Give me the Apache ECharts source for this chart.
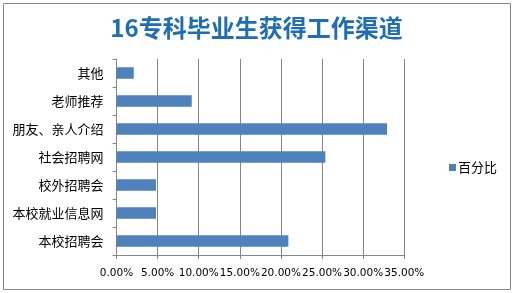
<!DOCTYPE html>
<html>
<head>
<meta charset="utf-8">
<script src="https://cdn.jsdelivr.net/npm/echarts@6/dist/echarts.min.js"></script>
<style>html,body{margin:0;padding:0;background:#fff}#c{width:513px;height:293px}</style>
</head>
<body>
<div id="c"></div>
<script>
var titleText = '16专科毕业生获得工作渠道';
var categories = ['其他', '老师推荐', '朋友、亲人介绍', '社会招聘网', '校外招聘会', '本校就业信息网', '本校招聘会'];
var seriesName = '百分比';
var values = [0.021, 0.0915, 0.329, 0.254, 0.048, 0.048, 0.209];
var xTicks = [0, 0.05, 0.10, 0.15, 0.20, 0.25, 0.30, 0.35];

var chart = echarts.init(document.getElementById('c'), null, {renderer: 'canvas'});
chart.setOption({
  animation: false,
  backgroundColor: '#fff',
  graphic: [{
    type: 'rect', shape: {x: 3.5, y: 3.5, width: 507, height: 286},
    style: {fill: 'none', stroke: '#868686', lineWidth: 1}, silent: true
  }],
  title: {
    text: titleText, left: 'center', top: 11,
    textStyle: {fontFamily: 'Noto Sans CJK SC', fontSize: 24, fontWeight: 'bold', color: '#1F6EB5'}
  },
  legend: {
    data: [seriesName], left: 444, top: 156, orient: 'vertical',
    icon: 'rect', itemWidth: 7, itemHeight: 7, itemGap: 4,
    textStyle: {fontFamily: 'Noto Sans CJK SC', fontSize: 13, color: '#000', padding: [0,0,0,-3]}
  },
  grid: {left: 116.5, right: 108.7, top: 59, bottom: 38, containLabel: false},
  xAxis: {
    type: 'value', min: 0, max: xTicks[xTicks.length - 1], interval: 0.05,
    axisLine: {show: true, lineStyle: {color: '#868686'}},
    axisTick: {show: true, length: 4, lineStyle: {color: '#868686'}},
    splitLine: {show: true, lineStyle: {color: '#868686', width: 1}},
    axisLabel: {
      hideOverlap: false, showMinLabel: true, showMaxLabel: true, margin: 13,
      fontFamily: 'DejaVu Sans', fontSize: 10.5, color: '#000',
      formatter: function (v) { return (v * 100).toFixed(2) + '%'; }
    }
  },
  yAxis: {
    type: 'category', data: categories, inverse: true,
    axisLine: {show: true, lineStyle: {color: '#868686'}},
    axisTick: {show: true, length: 4, alignWithLabel: false, lineStyle: {color: '#868686'}},
    axisLabel: {fontFamily: 'Noto Sans CJK SC', fontSize: 13, color: '#000', margin: 13, interval: 0}
  },
  series: [{
    name: seriesName, type: 'bar', data: values, barWidth: 11.5,
    itemStyle: {color: '#4F81BD'}
  }]
});
</script>
</body>
</html>
